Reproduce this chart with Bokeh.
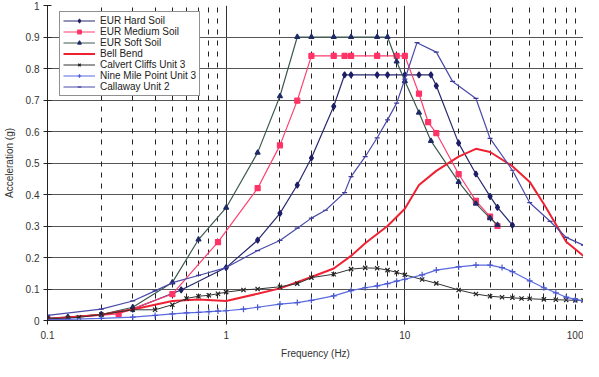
from bokeh.plotting import figure
from bokeh.models import FixedTicker, NumeralTickFormatter, Grid
from bokeh.embed import file_html
from bokeh.resources import INLINE

# ---- data ----
hs_f = [0.1, 0.2, 0.3, 0.56, 1.0, 1.5, 2.0, 2.5, 3.0, 4.0, 4.6, 5.0, 7.0, 8.0, 10.0, 12.0, 14.0, 15.0, 20.0, 25.0, 30.0, 33.0, 40.0]
hs_a = [0.005, 0.019, 0.036, 0.097, 0.168, 0.255, 0.34, 0.43, 0.516, 0.68, 0.78, 0.78, 0.78, 0.78, 0.78, 0.78, 0.78, 0.745, 0.563, 0.465, 0.394, 0.359, 0.303]

ms_f = [0.1, 0.25, 0.5, 0.9, 1.5, 2.0, 2.5, 3.0, 4.0, 4.6, 5.0, 7.0, 9.0, 10.0, 12.0, 13.5, 15.0, 20.0, 25.0, 30.0, 33.0]
ms_a = [0.005, 0.021, 0.084, 0.249, 0.42, 0.556, 0.698, 0.84, 0.84, 0.84, 0.84, 0.84, 0.84, 0.84, 0.72, 0.63, 0.595, 0.465, 0.38, 0.33, 0.30]

ss_f = [0.1, 0.13, 0.2, 0.3, 0.5, 0.7, 1.0, 1.5, 2.0, 2.5, 3.0, 4.0, 5.0, 7.0, 8.0, 9.0, 10.0, 12.0, 14.0, 20.0, 25.0, 30.0, 33.0]
ss_a = [0.008, 0.011, 0.019, 0.042, 0.121, 0.257, 0.358, 0.533, 0.712, 0.9, 0.9, 0.9, 0.9, 0.9, 0.9, 0.822, 0.76, 0.66, 0.57, 0.44, 0.371, 0.325, 0.303]

bb_f = [0.1, 0.2, 0.3, 0.5, 0.7, 1.0, 1.5, 2.0, 3.0, 4.0, 5.0, 6.0, 8.0, 10.0, 12.0, 15.0, 20.0, 25.0, 30.0, 40.0, 50.0, 60.0, 80.0, 100.0]
bb_a = [0.005, 0.018, 0.035, 0.062, 0.067, 0.062, 0.085, 0.102, 0.138, 0.165, 0.205, 0.245, 0.3, 0.355, 0.43, 0.475, 0.52, 0.545, 0.535, 0.49, 0.44, 0.37, 0.25, 0.205]

cc_f = [0.1, 0.13, 0.15, 0.2, 0.3, 0.4, 0.5, 0.6, 0.7, 0.8, 0.9, 1.0, 1.25, 1.5, 2.0, 2.5, 3.0, 4.0, 5.0, 6.0, 7.0, 8.0, 9.0, 10.0, 12.5, 15.0, 20.0, 25.0, 30.0, 35.0, 40.0, 45.0, 50.0, 60.0, 70.0, 80.0, 90.0, 100.0]
cc_a = [0.005, 0.008, 0.01, 0.019, 0.034, 0.034, 0.05, 0.07, 0.077, 0.08, 0.085, 0.09, 0.097, 0.1, 0.107, 0.117, 0.136, 0.147, 0.163, 0.167, 0.166, 0.16, 0.153, 0.145, 0.13, 0.118, 0.097, 0.084, 0.077, 0.074, 0.072, 0.07, 0.069, 0.067, 0.066, 0.065, 0.064, 0.064]

nm_f = [0.1, 0.2, 0.3, 0.4, 0.5, 0.6, 0.7, 0.8, 0.9, 1.0, 1.25, 1.5, 2.0, 2.5, 3.0, 4.0, 5.0, 6.0, 7.0, 8.0, 9.0, 10.0, 12.5, 15.0, 20.0, 25.0, 30.0, 35.0, 40.0, 50.0, 60.0, 70.0, 80.0, 90.0, 100.0]
nm_a = [0.002, 0.007, 0.011, 0.016, 0.021, 0.024, 0.026, 0.028, 0.03, 0.031, 0.036, 0.042, 0.052, 0.057, 0.064, 0.078, 0.095, 0.104, 0.11, 0.117, 0.125, 0.131, 0.145, 0.16, 0.17, 0.176, 0.176, 0.168, 0.155, 0.126, 0.104, 0.088, 0.074, 0.067, 0.062]

cw_f = [0.1, 0.2, 0.3, 0.4, 0.5, 0.7, 1.0, 1.5, 2.0, 2.5, 3.0, 3.6, 4.6, 5.0, 6.0, 7.0, 8.0, 9.0, 10.0, 11.7, 15.0, 18.5, 25.0, 30.0, 40.0, 50.0, 65.0, 80.0, 100.0]
cw_a = [0.016, 0.036, 0.062, 0.094, 0.12, 0.143, 0.168, 0.222, 0.254, 0.293, 0.325, 0.35, 0.406, 0.457, 0.52, 0.58, 0.637, 0.69, 0.766, 0.882, 0.852, 0.759, 0.705, 0.578, 0.477, 0.374, 0.315, 0.264, 0.239]

x_ticks = [0.1, 1, 10, 100]
y_ticks = [0, 0.1, 0.2, 0.3, 0.4, 0.5, 0.6, 0.7, 0.8, 0.9, 1.0]

FONT = "Liberation Sans"

p = figure(width=583, height=361, x_axis_type="log", x_range=(0.1, 100), y_range=(0, 1),
           output_backend="svg", toolbar_location=None,
           min_border_left=38, min_border_right=0, min_border_top=5, min_border_bottom=32)
p.outline_line_color = None
p.background_fill_color = "white"

# axes
p.xaxis.ticker = FixedTicker(ticks=x_ticks)
p.yaxis.ticker = FixedTicker(ticks=y_ticks)
p.xaxis.formatter = NumeralTickFormatter(format="0.[0]")
p.yaxis.formatter = NumeralTickFormatter(format="0.[0]")
for ax in (p.xaxis, p.yaxis):
    ax.minor_tick_line_color = None
    ax.major_tick_in = 4
    ax.major_tick_out = 4
    ax.axis_line_color = "#222222"
    ax.major_tick_line_color = "#222222"
    ax.major_label_text_font = FONT
    ax.major_label_text_font_size = "10px"
    ax.major_label_text_color = "#333333"
    ax.axis_label_text_font = FONT
    ax.axis_label_text_font_size = "10px"
    ax.axis_label_text_font_style = "normal"
    ax.axis_label_text_color = "#333333"
p.xaxis.axis_label = "Frequency (Hz)"
p.yaxis.axis_label = "Acceleration (g)"
p.xaxis.major_label_standoff = 6
p.xaxis.axis_label_standoff = 6
p.yaxis.major_label_standoff = 4
p.yaxis.axis_label_standoff = 8

# grids
p.ygrid.ticker = FixedTicker(ticks=y_ticks)
p.ygrid.grid_line_color = "#555555"
p.ygrid.grid_line_width = 1
p.xgrid.ticker = FixedTicker(ticks=x_ticks)
p.xgrid.grid_line_color = "#333333"
p.xgrid.grid_line_width = 1
minor = [m * d for d in (0.1, 1, 10) for m in range(2, 10)]
mg = Grid(dimension=0, ticker=FixedTicker(ticks=minor), grid_line_color="#222222",
          grid_line_dash="5 6", grid_line_width=1)
p.add_layout(mg)

series = [
    ("EUR Hard Soil", hs_f, hs_a, "#28286e", "#1e1e66", "diamond", 6, 1.2),
    ("EUR Medium Soil", ms_f, ms_a, "#ff3f6f", "#ff3366", "square", 5, 1.2),
    ("EUR Soft Soil", ss_f, ss_a, "#3d5a50", "#1f2a66", "triangle", 5, 1.2),
    ("Bell Bend", bb_f, bb_a, "#ee2233", None, None, 0, 2.0),
    ("Calvert Cliffs Unit 3", cc_f, cc_a, "#333333", "#222222", "x", 6, 1.0),
    ("Nine Mile Point Unit 3", nm_f, nm_a, "#5a6ae0", "#4a58d0", "cross", 6, 1.2),
    ("Callaway Unit 2", cw_f, cw_a, "#4a4aaa", "#3a3a9a", "dash", 5, 1.2),
]
for name, f, a, lc, mc, mk, ms, lw in series:
    p.line(f, a, line_color=lc, line_width=lw, legend_label=name)
    if mk is not None:
        p.scatter(f, a, marker=mk, size=ms, line_color=mc, fill_color=mc, line_width=1.2,
                  legend_label=name)

lg = p.legend[0]
lg.location = (12, 224)
lg.border_line_color = "#222222"
lg.border_line_width = 1
lg.background_fill_color = "white"
lg.background_fill_alpha = 1
lg.label_text_font = FONT
lg.label_text_font_size = "10px"
lg.label_text_color = "#222222"
lg.label_text_line_height = 1.0
lg.label_height = 9
lg.glyph_height = 9
lg.glyph_width = 32
lg.spacing = 0
lg.padding = 3
lg.label_standoff = 5
lg.title = None

open("out.html", "w").write(file_html(p, INLINE))
